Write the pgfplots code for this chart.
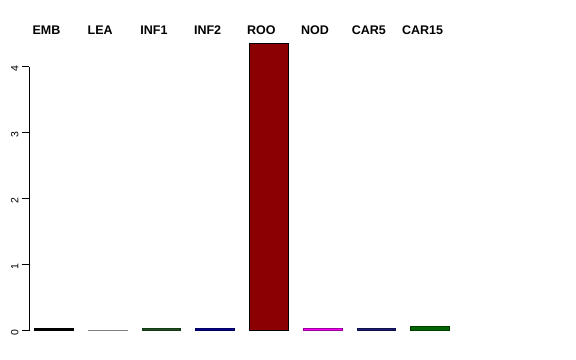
\documentclass[border=0pt]{standalone}
\usepackage{pgfplots}
\pgfplotsset{compat=1.18}
\usepackage{fontspec}
\setmainfont{Liberation Sans}
\definecolor{cEMB}{HTML}{000000}
\definecolor{cLEA}{HTML}{808080}
\definecolor{cINF1}{HTML}{1E5020}
\definecolor{cINF2}{HTML}{00008B}
\definecolor{cROO}{HTML}{8B0000}
\definecolor{cNOD}{HTML}{FF00FF}
\definecolor{cCAR5}{HTML}{191970}
\definecolor{cCARf}{HTML}{006400}
\tikzset{lab/.style={anchor=base, inner sep=0pt, font=\fontsize{12.5bp}{14bp}\selectfont\bfseries}}
\begin{document}
\begin{tikzpicture}
\path[use as bounding box] (0,0) rectangle (576bp,360bp);
\begin{axis}[
  at={(29bp,29.5bp)}, anchor=south west,
  scale only axis, width=441bp, height=264bp,
  xmin=-0.4616, xmax=7.748, ymin=0, ymax=4,
  clip=false,
  axis x line=none,
  axis y line*=left,
  y axis line style={-, line width=0.6bp, black},
  ytick={0,1,2,3,4},
  tick align=outside,
  major tick length=7bp,
  ytick style={line width=0.6bp, black},
  /pgf/number format/assume math mode=true,
  yticklabel style={font=\fontsize{10.5bp}{12bp}\selectfont, rotate=90, anchor=south, xshift=-2bp},
  every axis plot/.append style={line width=0.35bp},
]
\addplot[ybar, bar shift=0pt, bar width=0.72, fill=cEMB, draw=black] coordinates {(0,0.03)};
\addplot[ybar, bar shift=0pt, bar width=0.72, fill=cLEA, draw=cLEA] coordinates {(1,0.006)};
\addplot[ybar, bar shift=0pt, bar width=0.72, fill=cINF1, draw=cINF1!70!black] coordinates {(2,0.028)};
\addplot[ybar, bar shift=0pt, bar width=0.72, fill=cINF2, draw=cINF2!70!black] coordinates {(3,0.028)};
\addplot[ybar, bar shift=0pt, bar width=0.72, fill=cROO, draw=black] coordinates {(4,4.36)};
\addplot[ybar, bar shift=0pt, bar width=0.72, fill=cNOD, draw=cNOD!60!black] coordinates {(5,0.03)};
\addplot[ybar, bar shift=0pt, bar width=0.72, fill=cCAR5, draw=cCAR5!70!black] coordinates {(6,0.028)};
\addplot[ybar, bar shift=0pt, bar width=0.72, fill=cCARf, draw=cCARf!60!black] coordinates {(7,0.065)};
\node[lab] at (axis cs:-0.136,4.49) {EMB};
\node[lab] at (axis cs:0.864,4.49) {LEA};
\node[lab] at (axis cs:1.864,4.49) {INF1};
\node[lab] at (axis cs:2.864,4.49) {INF2};
\node[lab] at (axis cs:3.864,4.49) {ROO};
\node[lab] at (axis cs:4.864,4.49) {NOD};
\node[lab] at (axis cs:5.864,4.49) {CAR5};
\node[lab] at (axis cs:6.864,4.49) {CAR15};
\end{axis}
\end{tikzpicture}
\end{document}
